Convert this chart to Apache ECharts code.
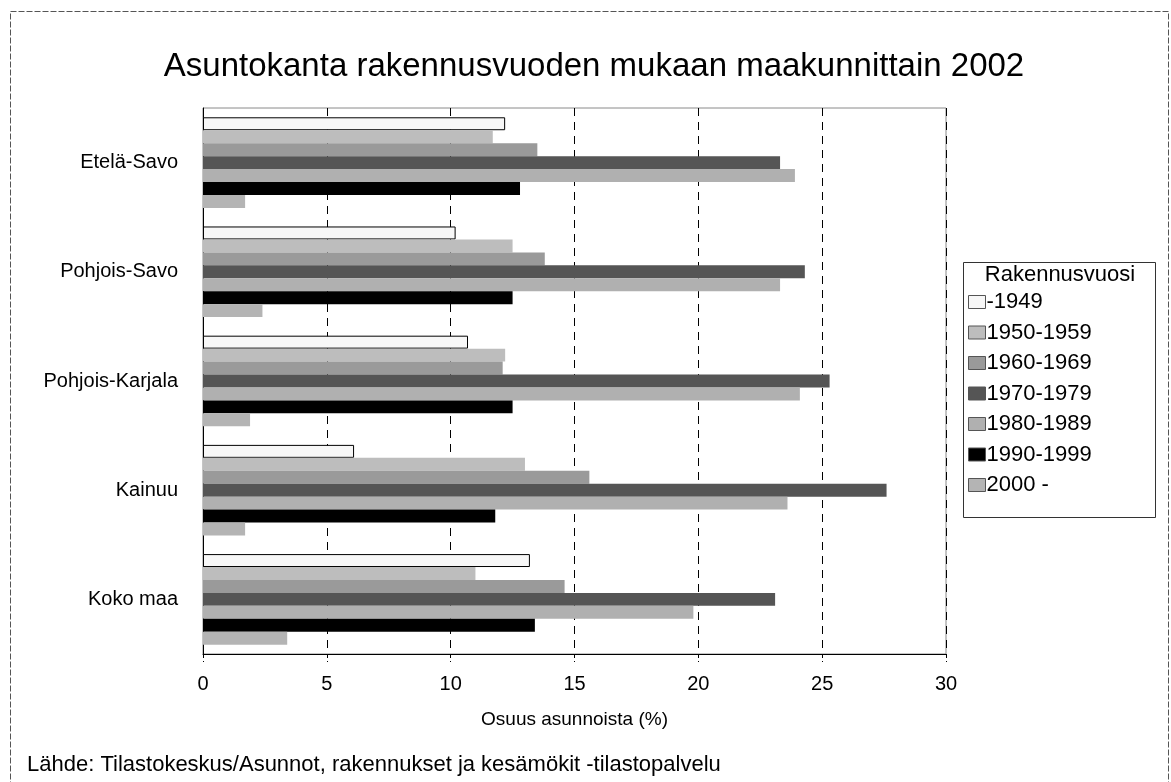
<!DOCTYPE html>
<html>
<head>
<meta charset="utf-8">
<script src="https://cdn.jsdelivr.net/npm/echarts@6/dist/echarts.min.js"></script>
<style>
html,body{margin:0;padding:0;background:#fff;}
#chart{width:1171px;height:782px;}
</style>
</head>
<body>
<div id="chart"></div>
<script>
const categories = ['Etelä-Savo', 'Pohjois-Savo', 'Pohjois-Karjala', 'Kainuu', 'Koko maa'];
const seriesNames = ['-1949', '1950-1959', '1960-1969', '1970-1979', '1980-1989', '1990-1999', '2000 -'];
const v1949 = [12.2, 10.2, 10.7, 6.1, 13.2];
const v1950 = [11.7, 12.5, 12.2, 13.0, 11.0];
const v1960 = [13.5, 13.8, 12.1, 15.6, 14.6];
const v1970 = [23.3, 24.3, 25.3, 27.6, 23.1];
const v1980 = [23.9, 23.3, 24.1, 23.6, 19.8];
const v1990 = [12.8, 12.5, 12.5, 11.8, 13.4];
const v2000 = [1.7, 2.4, 1.9, 1.7, 3.4];
const xTicks = [0, 5, 10, 15, 20, 25, 30];

const FONT = '"Liberation Sans", Arial, sans-serif';
const values = [v1949, v1950, v1960, v1970, v1980, v1990, v2000];
const fills = ['#f7f7f7', '#bdbdbd', '#9a9a9a', '#555555', '#b0b0b0', '#000000', '#b4b4b4'];
const borders = ['#000', null, null, null, null, null, null];

const chart = echarts.init(document.getElementById('chart'), null, {renderer: 'canvas'});
const option = {
  backgroundColor: '#fff',
  animation: false,
  title: {
    text: 'Asuntokanta rakennusvuoden mukaan maakunnittain 2002',
    left: 589, top: 45, textAlign: 'center',
    textStyle: {fontFamily: FONT, fontSize: 33, fontWeight: 'normal', color: '#000'}
  },
  grid: {
    left: 203, top: 108, width: 743, height: 546,
    show: true, borderColor: '#8a8a8a', borderWidth: 1, backgroundColor: 'transparent'
  },
  legend: {
    orient: 'vertical', left: 968, top: 291,
    data: seriesNames,
    icon: 'rect', itemWidth: 17, itemHeight: 13, itemGap: 8.5, padding: 0,
    textStyle: {fontFamily: FONT, fontSize: 22, color: '#000', padding: [0, 0, 0, -4]},
    itemStyle: {borderWidth: 1, borderColor: '#555'}
  },
  xAxis: {
    type: 'value', min: 0, max: 30, interval: 5,
    name: 'Osuus asunnoista (%)', nameLocation: 'middle', nameGap: 56,
    nameTextStyle: {fontFamily: FONT, fontSize: 19, color: '#000'},
    axisLine: {show: true, lineStyle: {color: '#000', width: 1}},
    axisTick: {show: true, length: 8, lineStyle: {color: '#000', type: [4, 3]}},
    axisLabel: {fontFamily: FONT, fontSize: 20, color: '#000', margin: 20,
      formatter: function (v) { return xTicks.indexOf(v) >= 0 ? String(v) : ''; }},
    splitLine: {show: true, lineStyle: {color: '#000', type: [8, 6], width: 1}}
  },
  yAxis: {
    type: 'category', data: categories, inverse: true,
    axisLine: {show: true, lineStyle: {color: '#000', width: 1}},
    axisTick: {show: false},
    axisLabel: {fontFamily: FONT, fontSize: 20, color: '#000', margin: 25}
  },
  series: seriesNames.map(function (name, i) {
    const style = {color: fills[i]};
    if (borders[i]) { style.borderColor = borders[i]; style.borderWidth = 1; }
    return {
      name: name, type: 'bar', data: values[i],
      barGap: '0.01%', barCategoryGap: '17%',
      itemStyle: style,
      emphasis: {disabled: true}
    };
  }),
  graphic: [
    {type: 'rect', shape: {x: 10.5, y: 11.5, width: 1158, height: 790},
      style: {fill: 'none', stroke: '#555', lineWidth: 1, lineDash: [6, 2]}, silent: true},
    {type: 'rect', shape: {x: 963.5, y: 262.5, width: 192, height: 255},
      style: {fill: 'none', stroke: '#333', lineWidth: 1}, silent: true},
    {type: 'text', x: 1060, y: 264, style: {text: 'Rakennusvuosi', fontFamily: FONT, fontSize: 22,
      fill: '#000', textAlign: 'center', textVerticalAlign: 'top'}, silent: true},
    {type: 'text', x: 27, y: 754, style: {text: 'Lähde: Tilastokeskus/Asunnot, rakennukset ja kesämökit -tilastopalvelu',
      fontFamily: FONT, fontSize: 22, fill: '#000', textAlign: 'left', textVerticalAlign: 'top'}, silent: true}
  ]
};
chart.setOption(option);
</script>
</body>
</html>
